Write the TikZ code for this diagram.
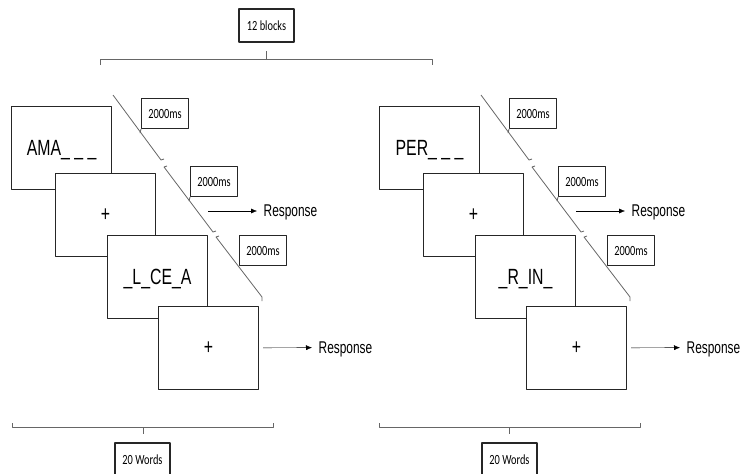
\documentclass[tikz,border=0pt]{standalone}
\usepackage{fontspec}
\setmainfont{Liberation Sans}
\newfontfamily\narrowsans[FakeStretch=0.72]{Liberation Sans}
\newfontfamily\respsans[FakeStretch=0.7]{Liberation Sans}
\newfontfamily\narrowcal[FakeStretch=0.74]{Carlito}
\usetikzlibrary{arrows.meta}

\tikzset{
  card/.style={draw=black!85, line width=1.1pt, fill=white, minimum width=100pt, minimum height=83pt,
    inner sep=0pt, text depth=0pt, anchor=north west, text=black,
    font=\narrowsans\fontsize{22}{24}\selectfont},
  tag/.style={draw=black!85, line width=1.1pt, fill=white, minimum width=47pt, minimum height=30pt,
    inner sep=0pt, anchor=north west, text=black, font=\narrowcal\fontsize{14}{16}\selectfont},
  lbl/.style={draw=black!85, line width=1.1pt, minimum width=55pt, minimum height=33pt,
    inner sep=0pt, text=black, font=\narrowcal\fontsize{14}{16}\selectfont},
  resp/.style={anchor=west, inner xsep=6.5pt, inner ysep=0pt, text depth=0pt, text=black,
    font=\respsans\fontsize{17}{20}\selectfont},
  brk/.style={draw=black!60, line width=0.8pt},
  tline/.style={draw=black!60, line width=0.8pt}
}

\begin{document}
\begin{tikzpicture}[x=1pt, y=-1pt, line join=round, >={Latex[length=6pt,width=5pt]}]
  \useasboundingbox (0,0) rectangle (742,474);
  % blocks label and top bracket
  \node[lbl] (blocks) at (266.5,25.5) {12 blocks};
  \draw[brk] (100,65) -- (100,59) -- (432,59) -- (432,65);
  \draw[brk] (266,59) -- (266,51);
  % the two blocks of trials
  \foreach \gx/\first/\third [count=\g] in {0/{AMA\_ \_ \_}/{\_L\_CE\_A}, 368/{PER\_ \_ \_}/{\_R\_IN\_}}{
    \begin{scope}[shift={(\gx,0)}]
      \draw[tline] (113,95) -- (161,160) -- ++(3,-1);
      \draw[tline] (167,166) -- (164,167) -- (213,232) -- ++(3,-1);
      \draw[tline] (219,236) -- (216,237) -- (262,297) -- ++(0,4);
      \node[card] (a\g) at (11,106) {\first};
      \node[card] (b\g) at (55,173) {+};
      \node[card] (c\g) at (107,235) {\third};
      \node[card] (d\g) at (158,306) {+};
      \node[tag] (t\g a) at (141,98) {2000ms};
      \node[tag] (t\g b) at (190,166) {2000ms};
      \node[tag] (t\g c) at (239,235) {2000ms};
      \draw[tline] (t\g a.south west) -- ++(-1,4);
      \draw[tline] (t\g b.south west) -- ++(-1,4);
      \coordinate (q\g) at (208,211);
      \node[resp] (r\g) at (257,211) {Response};
      \draw[->] (q\g) -- (r\g);
      \node[resp] (s\g) at (312,347.5) {Response};
      \draw[->, shorten <=4pt] (d\g) -- (s\g);
    \end{scope}
  }
  % word brackets
  \node[lbl] (words1) at (142.5,459.5) {20 Words};
  \node[lbl] (words2) at (509.5,459.5) {20 Words};
  \draw[brk] (12,423) -- (12,427) -- (273,427) -- (273,423);
  \draw[brk] (143,427) -- (143,434);
  \draw[brk] (379,423) -- (379,427) -- (640,427) -- (640,423);
  \draw[brk] (509,427) -- (509,434);
\end{tikzpicture}
\end{document}
